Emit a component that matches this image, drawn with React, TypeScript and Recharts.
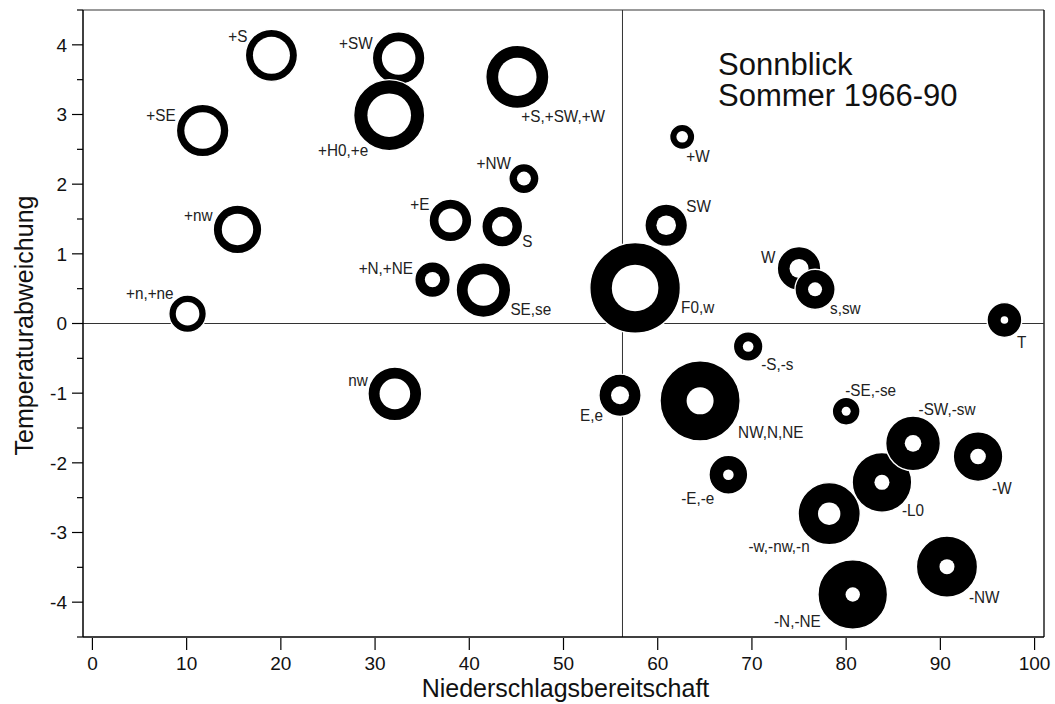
import React from 'react';
import { ScatterChart, Scatter, XAxis, YAxis, ReferenceLine, Label } from 'recharts';

// Weather types (Wetterlagen) at Sonnblick, summer 1966-90
const weatherTypes = [
  '+S', '+SE', '+SW', '+H0,+e', '+S,+SW,+W', '+NW', '+W', '+nw', '+E', 'S',
  'SW', '+N,+NE', 'SE,se', '+n,+ne', 'F0,w', 'W', 's,sw', 'T', '-S,-s', 'nw',
  'E,e', 'NW,N,NE', '-SE,-se', '-E,-e', '-w,-nw,-n', '-L0', '-SW,-sw', '-W', '-NW', '-N,-NE',
];
// Niederschlagsbereitschaft (x)
const precipitationReadiness = [
  19.0, 11.7, 32.5, 31.5, 45.1, 45.8, 62.6, 15.4, 38.0, 43.5,
  60.9, 36.1, 41.5, 10.1, 57.6, 75.0, 76.7, 96.8, 69.6, 32.1,
  56.0, 64.5, 80.0, 67.5, 78.2, 83.8, 87.1, 94.0, 90.7, 80.7,
];
// Temperaturabweichung (y)
const temperatureDeviation = [
  3.85, 2.77, 3.81, 2.99, 3.54, 2.08, 2.68, 1.35, 1.48, 1.39,
  1.41, 0.63, 0.48, 0.14, 0.51, 0.79, 0.49, 0.05, -0.33, -1.01,
  -1.03, -1.11, -1.26, -2.17, -2.73, -2.28, -1.72, -1.91, -3.49, -3.89,
];
// ring sizes (outer and inner, relative units)
const ringOuter = [
  25.5, 25.7, 25.7, 35.0, 31.0, 14.5, 12.0, 23.7, 20.8, 19.8,
  20.7, 17.2, 26.7, 18.2, 44.7, 21.2, 19.5, 16.8, 14.2, 26.3,
  20.5, 39.5, 13.3, 18.8, 30.5, 29.2, 26.8, 24.2, 30.0, 34.2,
];
const ringInner = [
  18.5, 18.3, 16.8, 21.8, 19.2, 7.0, 5.8, 15.7, 12.0, 10.3,
  9.8, 7.7, 15.8, 11.8, 23.3, 9.5, 7.0, 3.8, 5.3, 15.3,
  9.0, 13.5, 4.5, 5.3, 11.2, 7.5, 8.3, 7.8, 7.5, 7.2,
];

const xTicks = [0, 10, 20, 30, 40, 50, 60, 70, 80, 90, 100];
const yTicks = [-4.5, -4, -3.5, -3, -2.5, -2, -1.5, -1, -0.5, 0, 0.5, 1, 1.5, 2, 2.5, 3, 3.5, 4, 4.5];
const dividerX = 56.26;

// label placement: [anchor, dx, dy]
const labelPlacement: Record<string, ['start' | 'end', number, number]> = {
  '+S': ['end', -24, -13],
  '+SE': ['end', -27, -10],
  '+SW': ['end', -26, -9],
  '+H0,+e': ['end', -21, 41],
  '+S,+SW,+W': ['start', 4, 45],
  '+NW': ['end', -13, -10],
  '+W': ['start', 4, 25],
  '+nw': ['end', -25, -8],
  '+E': ['end', -21, -10],
  'S': ['start', 20, 20],
  'SW': ['start', 20, -13.5],
  '+N,+NE': ['end', -19.5, -5.5],
  'SE,se': ['start', 27, 25],
  '+n,+ne': ['end', -14, -15],
  'F0,w': ['start', 46, 25],
  'W': ['end', -23.5, -5],
  's,sw': ['start', 15, 24.5],
  'T': ['start', 12.5, 28],
  '-S,-s': ['start', 13, 23.5],
  'nw': ['end', -27, -8],
  'E,e': ['end', -17, 26],
  'NW,N,NE': ['start', 38, 37],
  '-SE,-se': ['start', -1, -15],
  '-SW,-sw': ['start', 5.5, -28],
  '-W': ['start', 14, 37],
  '-E,-e': ['end', -14, 29],
  '-L0': ['start', 20, 34],
  '-w,-nw,-n': ['end', -19.5, 38.7],
  '-NW': ['start', 22, 36.5],
  '-N,-NE': ['end', -32, 32.5],
};

const data = weatherTypes.map((name, i) => ({
  name,
  x: precipitationReadiness[i],
  y: temperatureDeviation[i],
  outer: ringOuter[i],
  inner: ringInner[i],
}));

const sansFont = "'Liberation Sans', Arial, Helvetica, sans-serif";

const renderRing = (props: any) => {
  const { cx, cy, payload } = props;
  if (cx == null || cy == null) return <g />;
  return (
    <g>
      <circle cx={cx} cy={cy} r={payload.outer + 0.6} fill="#000" stroke="#fff" strokeWidth={1.4} />
      <circle cx={cx} cy={cy} r={payload.inner} fill="#fff" />
    </g>
  );
};

const renderLabel = (props: any) => {
  const { cx, cy, payload } = props;
  if (cx == null || cy == null) return <g />;
  const p = labelPlacement[payload.name] || ['start', 0, 0];
  return (
    <g transform={`translate(${cx + p[1]}, ${cy + p[2]}) scale(0.9, 1)`}>
      <text x={0} y={0} textAnchor={p[0]} fontFamily={sansFont} fontSize={17} fill="#222">
        {payload.name}
      </text>
    </g>
  );
};

const YTick = (props: any) => {
  const { x, y, payload } = props;
  const v = payload.value;
  const major = Math.abs(v - Math.round(v)) < 1e-6;
  return (
    <g>
      <line x1={x - (major ? 11 : 6)} x2={x} y1={y} y2={y} stroke="#000" strokeWidth={1.2} />
      {major && (
        <text x={x - 16} y={y} dy="0.36em" textAnchor="end" fontFamily={sansFont} fontSize={19} fill="#111">
          {v}
        </text>
      )}
    </g>
  );
};

const XTick = (props: any) => {
  const { x, y, payload } = props;
  return (
    <g>
      <line x1={x} x2={x} y1={y + 1} y2={y + 13} stroke="#000" strokeWidth={1.2} />
      <text x={x} y={y + 33} textAnchor="middle" fontFamily={sansFont} fontSize={19} fill="#111">
        {payload.value}
      </text>
    </g>
  );
};

const XTitle = (props: any) => {
  const vb = props.viewBox || {};
  return (
    <text x={vb.x + vb.width / 2 + 2} y={vb.y + 60} textAnchor="middle" fontFamily={sansFont} fontSize={25} fill="#111">
      Niederschlagsbereitschaft
    </text>
  );
};

const YTitle = (props: any) => {
  const vb = props.viewBox || {};
  const x = vb.x + 10;
  const y = vb.y + vb.height / 2 + 2;
  return (
    <text x={x} y={y} transform={`rotate(-90, ${x}, ${y})`} textAnchor="middle" fontFamily={sansFont} fontSize={25} fill="#111">
      Temperaturabweichung
    </text>
  );
};

export default function App() {
  return (
    <div style={{ position: 'relative', width: 1055, height: 704, paddingLeft: 8, paddingTop: 8, boxSizing: 'border-box' }}>
      <style>{'html,body{margin:0;padding:0}'}</style>
      <div style={{ position: 'relative', width: 1047, height: 696 }}>
        <ScatterChart width={1047} height={696} margin={{ top: 2, right: 11, bottom: 0, left: 15 }}>
          <XAxis
            type="number"
            dataKey="x"
            domain={[-1, 101]}
            ticks={xTicks}
            interval={0}
            allowDataOverflow
            height={67}
            tickLine={false}
            tickSize={0}
            tickMargin={0}
            axisLine={{ stroke: '#000', strokeWidth: 1.5 }}
            tick={<XTick />}
          >
            <Label content={<XTitle />} />
          </XAxis>
          <YAxis
            type="number"
            dataKey="y"
            domain={[-4.5, 4.5]}
            ticks={yTicks}
            interval={0}
            allowDataOverflow
            width={60}
            tickLine={false}
            tickSize={0}
            tickMargin={0}
            axisLine={{ stroke: '#000', strokeWidth: 1.5 }}
            tick={<YTick />}
          >
            <Label content={<YTitle />} />
          </YAxis>
          <ReferenceLine y={4.5} stroke="#777" strokeWidth={1.5} />
          <ReferenceLine x={101} stroke="#000" strokeWidth={1.3} />
          <ReferenceLine x={dividerX} stroke="#333" strokeWidth={1} />
          <ReferenceLine y={0} stroke="#333" strokeWidth={1} />
          <Scatter data={data} dataKey="y" shape={renderRing} isAnimationActive={false} />
          <Scatter data={data} dataKey="y" shape={renderLabel} isAnimationActive={false} />
        </ScatterChart>
        <div
          style={{
            position: 'absolute',
            left: 710,
            top: 41,
            fontFamily: sansFont,
            fontSize: 31,
            lineHeight: '31px',
            color: '#111',
            whiteSpace: 'nowrap',
            pointerEvents: 'none',
          }}
        >
          <div>Sonnblick</div>
          <div>Sommer 1966-90</div>
        </div>
      </div>
    </div>
  );
}
